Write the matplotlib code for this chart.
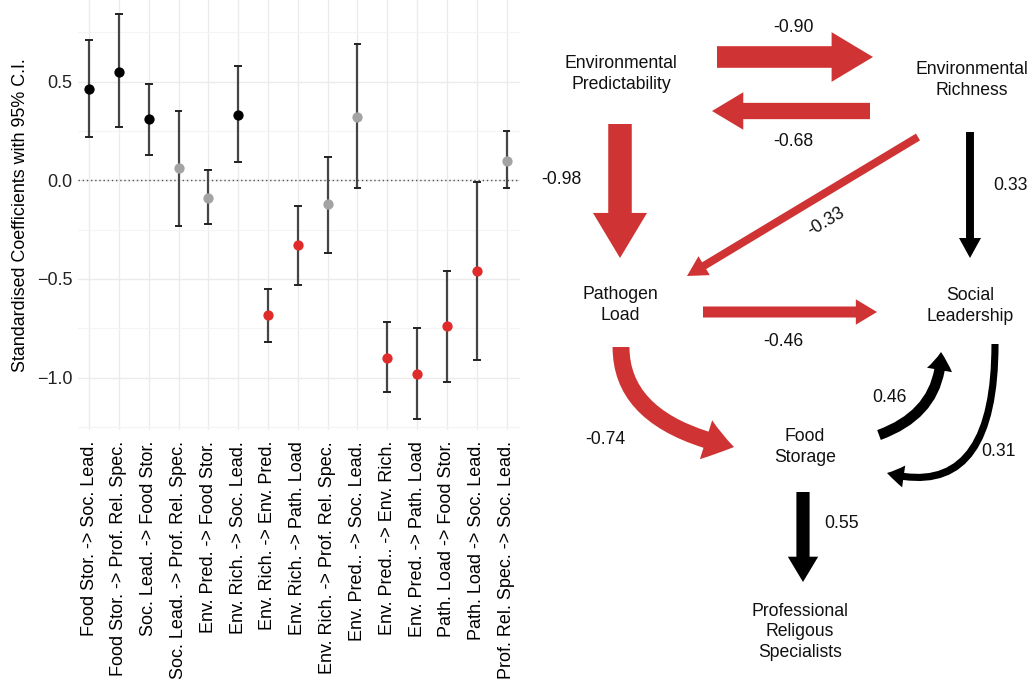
import matplotlib
matplotlib.use("Agg")
import matplotlib.pyplot as plt
from matplotlib.patches import FancyArrow, FancyArrowPatch

plt.rcParams['font.family'] = ['Liberation Sans', 'DejaVu Sans']

# ---- left panel data: standardised path coefficients with 95% C.I.
paths = [
    "Food Stor. -> Soc. Lead.", "Food Stor. -> Prof. Rel. Spec.",
    "Soc. Lead. -> Food Stor.", "Soc. Lead. -> Prof. Rel. Spec.",
    "Env. Pred. -> Food Stor.", "Env. Rich. -> Soc. Lead.",
    "Env. Rich. -> Env. Pred.", "Env. Rich. -> Path. Load",
    "Env. Rich. -> Prof. Rel. Spec.", "Env. Pred.. -> Soc. Lead.",
    "Env. Pred.. -> Env. Rich.", "Env. Pred. -> Path. Load",
    "Path. Load -> Food Stor.", "Path. Load -> Soc. Lead.",
    "Prof. Rel. Spec. -> Soc. Lead.",
]
estimate = [0.46, 0.55, 0.31, 0.06, -0.09, 0.33, -0.68, -0.33,
            -0.12, 0.32, -0.90, -0.98, -0.74, -0.46, 0.10]
ci_low = [0.22, 0.27, 0.13, -0.23, -0.22, 0.09, -0.82, -0.53,
          -0.37, -0.04, -1.07, -1.21, -1.02, -0.91, -0.04]
ci_high = [0.71, 0.84, 0.49, 0.35, 0.05, 0.58, -0.55, -0.13,
           0.12, 0.69, -0.72, -0.75, -0.46, -0.01, 0.25]
# "pos" = significant positive, "neg" = significant negative, "ns" = not significant
effect = ["pos", "pos", "pos", "ns", "ns", "pos", "neg", "neg",
          "ns", "ns", "neg", "neg", "neg", "neg", "ns"]

# ---- right panel data: path diagram
nodes = {
    "EP": "Environmental\nPredictability",
    "ER": "Environmental\nRichness",
    "PL": "Pathogen\nLoad",
    "SL": "Social\nLeadership",
    "FS": "Food\nStorage",
    "PRS": "Professional\nReligous\nSpecialists",
}
edges = [("EP", "ER"), ("ER", "EP"), ("EP", "PL"), ("ER", "PL"), ("ER", "SL"),
         ("PL", "SL"), ("PL", "FS"), ("FS", "SL"), ("SL", "FS"), ("FS", "PRS")]
coefs = [-0.90, -0.68, -0.98, -0.33, 0.33, -0.46, -0.74, 0.46, 0.31, 0.55]

# layout of the diagram (pixel coordinates)
node_xy = {"EP": (621, 74), "ER": (972, 80), "PL": (620, 305),
           "SL": (970, 306), "FS": (805, 447), "PRS": (800, 632)}
edge_start = [(717, 57), (870, 111), (620, 124), (918, 137), (970, 132),
              (703, 312), (621, 347), (879, 435), (995, 344), (803, 492)]
edge_end = [(873, 57), (712, 111), (620, 258), (687, 276), (970, 258),
            (877, 312), (734, 447), (941, 352), (887, 473), (803, 582)]
edge_curve = [None, None, None, None, None, None,
              "angle3,angleA=90,angleB=-12", "angle3,angleA=20,angleB=90",
              "angle3,angleA=90,angleB=-15", None]
label_xy = [(793, 28), (793, 142), (561, 179), (826, 222), (1010, 185),
            (783, 342), (605, 439), (889, 398), (998, 452), (842, 524)]
label_rot = [0, 0, 0, 31, 0, 0, 0, 0, 0, 0]

RED = "#cf3334"
dot_colors = {"pos": "black", "neg": "#e02b2b", "ns": "#a3a3a3"}

W, H = 1033, 681
fig = plt.figure(figsize=(W / 100, H / 100), dpi=100)

# ---------------- left: coefficient plot
ax = fig.add_axes([78 / W, 1 - 430 / H, 442 / W, 430 / H])
x = list(range(1, len(paths) + 1))
for xi, est, lo, hi, eff in zip(x, estimate, ci_low, ci_high, effect):
    ax.vlines(xi, lo, hi, color="#454545", lw=1.6, zorder=2)
    ax.hlines([lo, hi], xi - 0.13, xi + 0.13, color="#222222", lw=1.4, zorder=2)
    ax.plot(xi, est, "o", color=dot_colors[eff], ms=7.4, mec="none", zorder=3)
ax.axhline(0, color="#555555", lw=1.0, ls=(0, (1, 2)), zorder=1)

ax.set_xlim(0.63, 15.45)
ax.set_ylim(-1.265, 0.913)
ax.set_yticks([-1.0, -0.5, 0.0, 0.5])
ax.set_yticks([-1.25, -0.75, -0.25, 0.25, 0.75], minor=True)
ax.set_xticks(x)
ax.set_xticklabels(paths, rotation=90, fontsize=13)
ax.tick_params(axis="y", labelsize=13, length=0, pad=4, colors="#222222")
ax.tick_params(axis="y", which="minor", length=0)
ax.tick_params(axis="x", length=0, pad=8)
ax.grid(True, which="major", color="#ebebeb", lw=1.0)
ax.grid(True, which="minor", axis="y", color="#f4f4f4", lw=0.8)
ax.set_axisbelow(True)
for s in ax.spines.values():
    s.set_visible(False)
ax.set_ylabel("Standardised Coefficients with 95% C.I.", fontsize=12.9, labelpad=6)

# ---------------- right: path diagram
dx0 = 520
ad = fig.add_axes([dx0 / W, 0, (W - dx0) / W, 1])
ad.set_xlim(dx0, W)
ad.set_ylim(H, 0)
ad.axis("off")

for key, label in nodes.items():
    nx, ny = node_xy[key]
    ad.text(nx, ny, label, ha="center", va="center", fontsize=12.7,
            linespacing=1.25, color="#111111")

for (a, b), c, p0, p1, cs, lxy, rot in zip(edges, coefs, edge_start, edge_end,
                                          edge_curve, label_xy, label_rot):
    col = RED if c < 0 else "black"
    shaft = 24 * abs(c)
    head_w = max(2.3 * shaft, 22)
    head_l = max(46 * abs(c), 20)
    if cs is None:
        ad.add_patch(FancyArrow(p0[0], p0[1], p1[0] - p0[0], p1[1] - p0[1],
                                width=shaft, head_width=head_w, head_length=head_l,
                                length_includes_head=True, color=col, lw=0))
    else:
        style = f"simple,tail_width={shaft * 0.95:.1f},head_width={head_w:.1f},head_length={head_l * 0.85:.1f}"
        ad.add_patch(FancyArrowPatch(p0, p1, connectionstyle=cs, arrowstyle=style,
                                     mutation_scale=0.72, color=col, lw=0,
                                     shrinkA=0, shrinkB=0))
    ad.text(lxy[0], lxy[1], f"{c:.2f}", ha="center", va="center",
            fontsize=12.7, rotation=rot, color="#111111")

fig.savefig("out.png", dpi=100)
